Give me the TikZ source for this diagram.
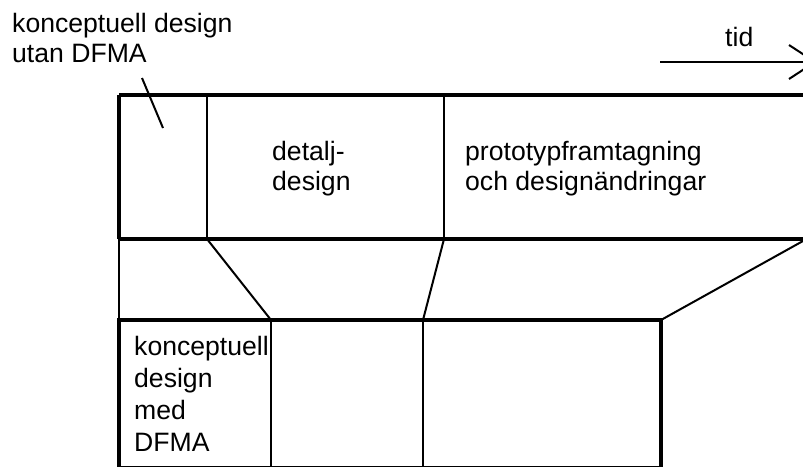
\documentclass[tikz,border=0pt]{standalone}
\usepackage{fontspec}
\setmainfont{Liberation Sans}
\begin{document}
\begin{tikzpicture}[x=1pt,y=-1pt,
  thickline/.style={line width=4.8pt},
  thinline/.style={line width=2pt},
  lbl/.style={inner sep=0pt,anchor=base west,align=left,
    font=\fontsize{26.6}{29.5}\selectfont},
  lbltall/.style={lbl,font=\fontsize{26.6}{32}\selectfont}]
\useasboundingbox (0,0) rectangle (803,466);

% corners of the upper (conventional) sequence
\coordinate (ul) at (119,95);
\coordinate (ur) at (812,95);
\coordinate (bl) at (119,239);
\coordinate (br) at (812,239);
\coordinate (brEnd) at (803,241);
\coordinate (d1t) at (207,95);
\coordinate (d1b) at (207,239);
\coordinate (d2t) at (444,95);
\coordinate (d2b) at (444,239);

% corners of the lower (DFMA) sequence
\coordinate (lul) at (119,320);
\coordinate (lur) at (661,320);
\coordinate (lbl) at (119,467);
\coordinate (lbr) at (661,467);
\coordinate (e1t) at (271,320);
\coordinate (e1b) at (271,467);
\coordinate (e2t) at (423,320);
\coordinate (e2b) at (423,467);

% upper bar
\draw[thickline] (ul) -- (ur);
\draw[thickline] (bl) -- (br);
\draw[thickline] (ul) -- (bl);
\draw[thinline] (d1t) -- (d1b);
\draw[thinline] (d2t) -- (d2b);

% lower bar
\draw[thickline] (lbl) -- (lul) -- (lur) -- (lbr);
\draw[thinline] (lbl) -- (lbr);
\draw[thinline] (e1t) -- (e1b);
\draw[thinline] (e2t) -- (e2b);

% phase correspondence
\draw[thinline] (bl) -- (lul);
\draw[thinline] (d1b) -- (e1t);
\draw[thinline] (d2b) -- (e2t);
\draw[thinline] (brEnd) -- (lur);

% time axis
\coordinate (tstart) at (660,62);
\coordinate (ttip) at (815,62);
\coordinate (tarmA) at (789,45);
\coordinate (tarmB) at (789,79);
\draw[thinline] (tstart) -- (ttip);
\draw[thinline] (tarmA) -- (ttip) -- (tarmB);
\node[lbl] (tid) at (725,46) {tid};

% labels (anchored at the baseline of their last line)
\node[lbl] (konvlabel) at (12,62) {konceptuell design\\utan DFMA};
\coordinate (callA) at (142,78);
\coordinate (callB) at (163,128);
\draw[thinline] (callA) -- (callB);

\node[lbl] (detalj) at (272,190) {detalj-\\design};
\node[lbl] (proto) at (465,190) {prototypframtagning\\och designändringar};
\node[lbltall] (dfma) at (134,451) {konceptuell\\design\\med\\DFMA};
\end{tikzpicture}
\end{document}
